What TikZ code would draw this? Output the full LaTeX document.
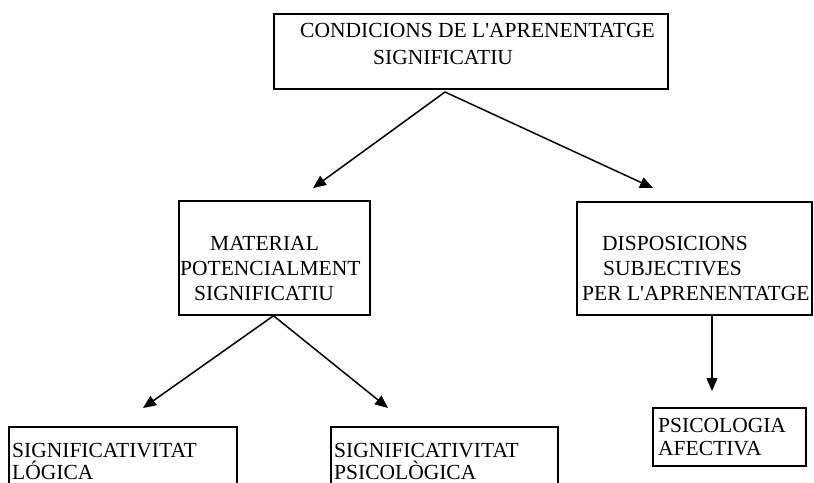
\documentclass[tikz,border=0pt]{standalone}
\usepackage{fontspec}
\setmainfont{Liberation Serif}[Ligatures=TeXOff]
\usetikzlibrary{arrows.meta}
\tikzset{
    box/.style={draw, line width=1.5pt, inner sep=0pt},
    lbl/.style={anchor=base west, inner sep=0pt, font=\fontsize{21.5pt}{25pt}\selectfont},
    arr/.style={-{Triangle[length=13pt,width=11pt]}, line width=1.5pt}
}
\begin{document}
\begin{tikzpicture}[x=1pt,y=-1pt]
            \clip (0,0) rectangle (814,482);
            % boxes
            \node[box, minimum width=394pt, minimum height=75pt] (cond) at (471,51.5) {};
            \node[box, minimum width=191pt, minimum height=114pt] (mat) at (274.5,258) {};
            \node[box, minimum width=235pt, minimum height=113pt] (disp) at (694.5,258.5) {};
            \node[box, minimum width=153pt, minimum height=58pt] (afec) at (729.5,437) {};
            \node[box, minimum width=228pt, minimum height=73pt] (logi) at (123,463.5) {};
            \node[box, minimum width=227pt, minimum height=73pt] (psic) at (444.5,463.5) {};
            % texts
            \node[lbl] (cond1) at (300,37) {CONDICIONS DE L'APRENENTATGE};
            \node[lbl] (cond2) at (373,64) {SIGNIFICATIU};
            \node[lbl] (mat1) at (210,250) {MATERIAL};
            \node[lbl] (mat2) at (180,275) {POTENCIALMENT};
            \node[lbl] (mat3) at (194,300) {SIGNIFICATIU};
            \node[lbl] (disp1) at (602,250) {DISPOSICIONS};
            \node[lbl] (disp2) at (603,275) {SUBJECTIVES};
            \node[lbl] (disp3) at (582,300) {PER L'APRENENTATGE};
            \node[lbl] (afec1) at (658,432) {PSICOLOGIA};
            \node[lbl] (afec2) at (658,455) {AFECTIVA};
            \node[lbl] (logi1) at (12,457) {SIGNIFICATIVITAT};
            \node[lbl] (logi2) at (12,479) {LÓGICA};
            \node[lbl] (psic1) at (334,457) {SIGNIFICATIVITAT};
            \node[lbl] (psic2) at (334,479) {PSICOLÒGICA};
            % arrow ends
            \coordinate (fromCond) at (445,92);
            \coordinate (toMat) at (313,188);
            \coordinate (toDisp) at (653,188);
            \coordinate (toLogi) at (143,408);
            \coordinate (toPsic) at (388,408);
            \coordinate (toAfec) at (712,391);
            \draw[arr] (fromCond) -- (toMat);
            \draw[arr] (fromCond) -- (toDisp);
            \draw[arr] ([xshift=-1pt]mat.south) -- (toLogi);
            \draw[arr] ([xshift=-1pt]mat.south) -- (toPsic);
            \draw[arr] ([xshift=17.5pt]disp.south) -- (toAfec);
        \end{tikzpicture}
\end{document}
